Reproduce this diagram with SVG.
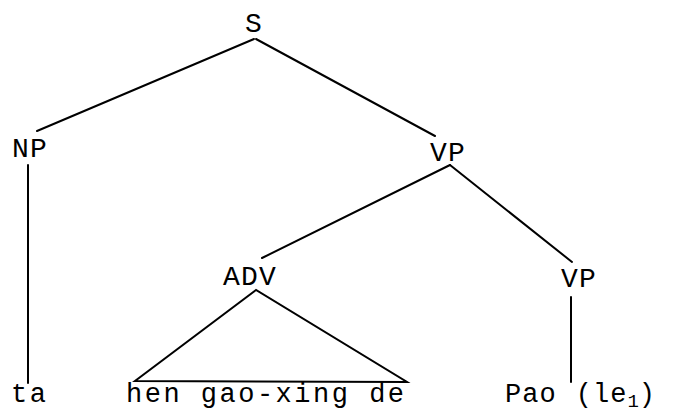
<svg xmlns="http://www.w3.org/2000/svg" width="673" height="419" viewBox="0 0 673 419">
<style>
.lbl{font-family:"Liberation Mono","DejaVu Sans Mono",monospace;font-size:28px;letter-spacing:1.2px;fill:#000}
.word{font-family:"Liberation Mono","DejaVu Sans Mono",monospace;font-size:27px;letter-spacing:2.5px;fill:#000}
.pao{letter-spacing:1px}
.sub{font-size:19px;letter-spacing:0}
.edge{stroke:#000;stroke-width:2;fill:none;stroke-linecap:round}
</style>
<rect width="673" height="419" fill="#fff"/>
<g id="connectors">
<line class="edge" x1="254" y1="39" x2="37" y2="131"/>
<line class="edge" x1="256" y1="39" x2="435" y2="136"/>
<line class="edge" x1="28" y1="165" x2="28" y2="383"/>
<line class="edge" x1="450" y1="165" x2="262" y2="258"/>
<line class="edge" x1="450" y1="165" x2="572" y2="262"/>
<line class="edge" x1="571" y1="297" x2="571" y2="382"/>
<polygon class="edge" points="256,290 135,381 407,382"/>
</g>
<g id="node-S"><text class="lbl" x="245" y="32">S</text></g>
<g id="node-NP"><text class="lbl" x="12" y="157">NP</text></g>
<g id="node-VP"><text class="lbl" x="430" y="161">VP</text></g>
<g id="node-ADV"><text class="lbl" x="223" y="285">ADV</text></g>
<g id="node-VP2"><text class="lbl" x="561" y="287">VP</text></g>
<g id="node-ta"><text class="word" x="11" y="402">ta</text></g>
<g id="node-hen"><text class="word" x="126" y="402">hen gao-xing de</text></g>
<g id="node-pao"><text class="word pao" x="505" y="402">Pao <tspan dx="2">(le</tspan><tspan class="sub" dy="5">1</tspan><tspan dy="-5">)</tspan></text></g>
</svg>
